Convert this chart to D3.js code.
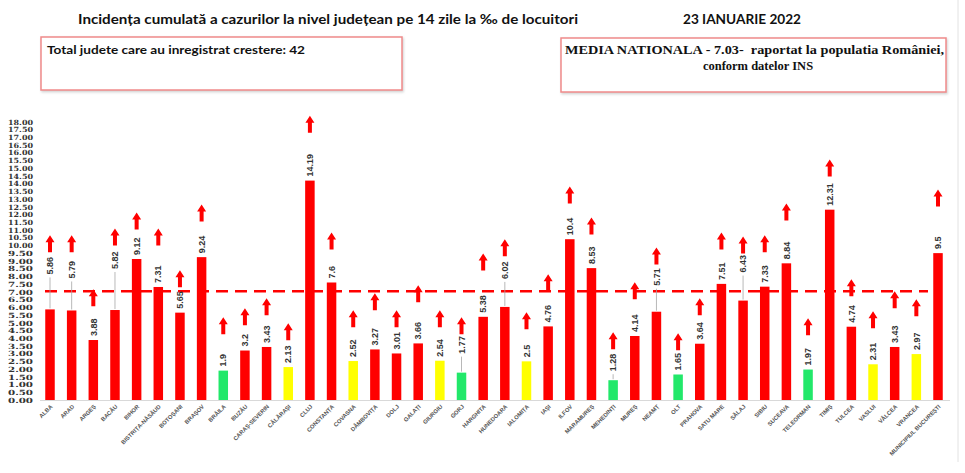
<!DOCTYPE html>
<html><head><meta charset="utf-8">
<script src="https://cdn.jsdelivr.net/npm/d3@7"></script>
<style>body{margin:0;background:#fff}svg{display:block}</style>
</head><body>
<script>
const categories = ["ALBA","ARAD","ARGEȘ","BACĂU","BIHOR","BISTRIȚA-NĂSĂUD","BOTOȘANI","BRAȘOV","BRĂILA","BUZĂU","CARAȘ-SEVERIN","CĂLĂRAȘI","CLUJ","CONSTANȚA","COVASNA","DÂMBOVIȚA","DOLJ","GALAȚI","GIURGIU","GORJ","HARGHITA","HUNEDOARA","IALOMIȚA","IAȘI","ILFOV","MARAMUREȘ","MEHEDINȚI","MUREȘ","NEAMȚ","OLT","PRAHOVA","SATU MARE","SĂLAJ","SIBIU","SUCEAVA","TELEORMAN","TIMIȘ","TULCEA","VASLUI","VÂLCEA","VRANCEA","MUNICIPIUL BUCUREȘTI"];
const values = [5.86,5.79,3.88,5.82,9.12,7.31,5.65,9.24,1.9,3.2,3.43,2.13,14.19,7.6,2.52,3.27,3.01,3.66,2.54,1.77,5.38,6.02,2.5,4.76,10.4,8.53,1.28,4.14,5.71,1.65,3.64,7.51,6.43,7.33,8.84,1.97,12.31,4.74,2.31,3.43,2.97,9.5];
// level at which each "increase" arrow sits (top of arrow, in chart units)
const arrowLevels = [10.65,10.65,7.16,11.10,12.13,11.10,8.39,12.65,5.35,5.94,6.58,4.97,18.39,10.84,5.81,6.90,5.81,7.42,5.81,5.35,9.48,10.39,5.68,8.13,13.81,11.81,4.39,7.61,9.87,4.32,6.58,10.84,10.58,10.65,12.71,5.29,15.55,7.81,5.74,7.03,6.52,13.61];
const nationalAverage = 7.03;
const yTicks = d3.range(0, 18.001, 0.5);
const colorThresholds = [2, 3];
const colorRange = ["#22e86a", "#ffff00", "#ff0000"];
const title = "Incidența cumulată a cazurilor la nivel județean pe 14 zile la ‰ de locuitori";
const dateText = "23 IANUARIE 2022";
const box1Text = "Total judete care au inregistrat crestere: 42";
const box2Lines = ["MEDIA NATIONALA - 7.03-\u00a0 raportat la populatia României,", "conform datelor INS"];
// labels raised with leader lines (px)
const labelLift = {"ALBA":31,"ARAD":28,"BACĂU":37,"GORJ":15,"MEHEDINȚI":5,"HUNEDOARA":24,"NEAMȚ":22,"SĂLAJ":24};

const W = 965, H = 473;
const svg = d3.select("body").append("svg").attr("width", W).attr("height", H);
svg.append("rect").attr("width", W).attr("height", H).attr("fill", "#fff");

const x = d3.scalePoint().domain(categories).range([50, 938]);
const y = d3.scaleLinear().domain([0, 18]).range([400, 121.7]);
const color = d3.scaleThreshold().domain(colorThresholds).range(colorRange);
const bw = 9.5;

// frame lines
svg.append("line").attr("x1", 958).attr("x2", 958).attr("y1", 0).attr("y2", 462).attr("stroke", "#e2e2e2");

// title
svg.append("text").attr("x", 78).attr("y", 24).attr("textLength", 500).attr("lengthAdjust", "spacingAndGlyphs")
  .attr("font-family", "Lato, 'Open Sans', sans-serif").attr("font-weight", "bold").attr("font-size", 13.5).attr("fill", "#111").text(title);
svg.append("text").attr("x", 683).attr("y", 24).attr("textLength", 118).attr("lengthAdjust", "spacingAndGlyphs")
  .attr("font-family", "Lato, sans-serif").attr("font-weight", "bold").attr("font-size", 13.5).attr("fill", "#111").text(dateText);

// boxes
const defs = svg.append("defs");
const f = defs.append("filter").attr("id", "sh").attr("x", "-5%").attr("y", "-5%").attr("width", "115%").attr("height", "130%");
f.append("feDropShadow").attr("dx", 1).attr("dy", 1.5).attr("stdDeviation", 1).attr("flood-color", "#999").attr("flood-opacity", 0.45);
svg.append("rect").attr("x", 41).attr("y", 37).attr("width", 361).attr("height", 53).attr("fill", "#fff").attr("stroke", "#f08a8a").attr("stroke-width", 1.5).attr("filter", "url(#sh)");
svg.append("rect").attr("x", 561).attr("y", 38).attr("width", 385).attr("height", 54).attr("fill", "#fff").attr("stroke", "#f08a8a").attr("stroke-width", 1.5).attr("filter", "url(#sh)");
svg.append("text").attr("x", 47).attr("y", 54).attr("textLength", 258).attr("lengthAdjust", "spacingAndGlyphs")
  .attr("font-family", "Lato, sans-serif").attr("font-weight", "bold").attr("font-size", 12).attr("fill", "#111").text(box1Text);
svg.append("text").attr("x", 565).attr("y", 54).attr("textLength", 379).attr("lengthAdjust", "spacingAndGlyphs")
  .attr("font-family", "'Liberation Serif', serif").attr("font-weight", "bold").attr("font-size", 12.5).attr("fill", "#111").text(box2Lines[0]);
svg.append("text").attr("x", 758).attr("y", 70).attr("text-anchor", "middle")
  .attr("font-family", "'Liberation Serif', serif").attr("font-weight", "bold").attr("font-size", 12.5).attr("fill", "#111").text(box2Lines[1]);

// y axis
const yAxis = d3.axisLeft(y).tickValues(yTicks).tickFormat(d3.format(".2f")).tickSize(0).tickPadding(0);
const ga = svg.append("g").attr("transform", "translate(33,0)").call(yAxis);
ga.select(".domain").remove();
ga.selectAll("text").attr("font-family", "'DejaVu Serif', serif").attr("font-weight", "bold").attr("font-size", 7.2)
  .attr("textLength", 25).attr("lengthAdjust", "spacingAndGlyphs").attr("fill", "#333");

// baseline
svg.append("line").attr("x1", 40).attr("x2", 950).attr("y1", y(0) + 0.5).attr("y2", y(0) + 0.5).attr("stroke", "#d9d9d9");

// bars
const data = categories.map((c, i) => ({c, v: values[i], a: arrowLevels[i]}));
svg.append("g").selectAll("rect").data(data).join("rect")
  .attr("x", d => x(d.c) - bw / 2).attr("width", bw)
  .attr("y", d => y(d.v)).attr("height", d => y(0) - y(d.v))
  .attr("fill", d => color(d.v));

// national average dashed line
svg.append("line").attr("x1", 45).attr("x2", 928).attr("y1", y(nationalAverage)).attr("y2", y(nationalAverage))
  .attr("stroke", "#ff0000").attr("stroke-width", 2.6).attr("stroke-dasharray", "12,7");

// arrows
const arrow = "M0,0 L4.5,7 L2,7 L2,17 L-2,17 L-2,7 L-4.5,7 Z";
svg.append("g").selectAll("path").data(data).join("path")
  .attr("d", arrow).attr("transform", d => `translate(${x(d.c)},${y(d.a)})`).attr("fill", "#ff0000");

// leader lines
svg.append("g").selectAll("line").data(data.filter(d => labelLift[d.c])).join("line")
  .attr("x1", d => x(d.c)).attr("x2", d => x(d.c))
  .attr("y1", d => y(d.v) - 1).attr("y2", d => y(d.v) - labelLift[d.c] - 1)
  .attr("stroke", "#a6a6a6").attr("stroke-width", 0.8);

// value labels
svg.append("g").selectAll("text").data(data).join("text")
  .attr("transform", d => `translate(${x(d.c) + 3.2},${y(d.v) - 4 - (labelLift[d.c] || 0)}) rotate(-90)`)
  .attr("font-family", "'Liberation Sans', Arial, sans-serif").attr("font-weight", "bold").attr("font-size", 9)
  .attr("fill", "#333").text(d => String(d.v));

// category labels
svg.append("g").selectAll("text").data(data).join("text")
  .attr("transform", d => `translate(${x(d.c) + 3},${y(0) + 7}) rotate(-45)`)
  .attr("text-anchor", "end")
  .attr("font-family", "'Liberation Sans', Arial, sans-serif").attr("font-weight", "bold").attr("font-size", 5.8)
  .attr("fill", "#555").text(d => d.c);
</script>
</body></html>
